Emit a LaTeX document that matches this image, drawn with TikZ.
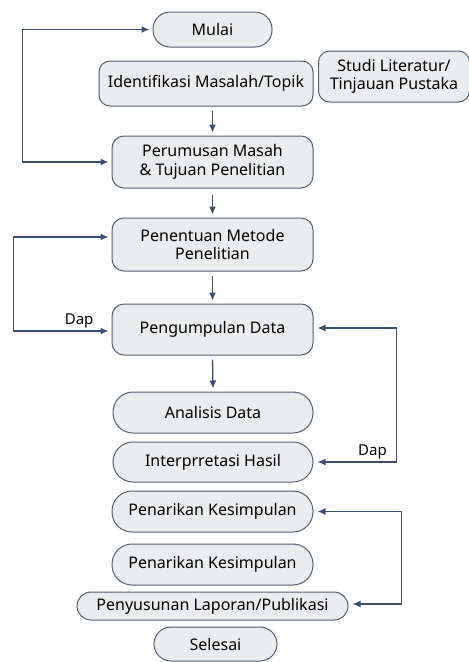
\documentclass[tikz,border=0pt]{standalone}
\usepackage{fontspec}
\setmainfont{Noto Sans}
\usetikzlibrary{positioning, arrows.meta}

\definecolor{boxfill}{HTML}{EBECEE}
\definecolor{boxline}{HTML}{56606D}
\definecolor{arrowline}{HTML}{3D4D6B}

\begin{document}
\begin{tikzpicture}[x=1pt, y=-1pt,
  stepbox/.style={draw=boxline, fill=boxfill, line width=1pt, align=center, inner sep=0pt,
    font=\fontsize{16}{18.5}\selectfont},
  flow/.style={arrowline, line width=1.3pt, -{Latex[length=8pt,width=7pt]}, shorten >=3pt},
  twoway/.style={flow, {Latex[length=8pt,width=7pt]}-{Latex[length=8pt,width=7pt]}, shorten <=3pt},
  looplabel/.style={text=black, font=\fontsize{15}{17}\selectfont, inner sep=2pt}]
\useasboundingbox (0,0) rectangle (469,662);

\node[stepbox, minimum width=119pt, minimum height=35pt, rounded corners=17pt] (mulai) at (212.5,29.5) {Mulai};
\node[stepbox, minimum width=214pt, minimum height=45pt, rounded corners=11pt] (identifikasi) at (206,83.5) {Identifikasi Masalah/Topik};
\node[stepbox, minimum width=151pt, minimum height=51pt, rounded corners=11pt] (studi) at (394,76.5) {Studi Literatur/\\Tinjauan Pustaka};
\node[stepbox, minimum width=201pt, minimum height=52pt, rounded corners=12pt] (perumusan) at (212.5,162) {Perumusan Masah\\\& Tujuan Penelitian};
\node[stepbox, minimum width=201pt, minimum height=53pt, rounded corners=12pt] (penentuan) at (212.5,244.5) {Penentuan Metode\\Penelitian};
\node[stepbox, minimum width=201pt, minimum height=51pt, rounded corners=12pt] (pengumpulan) at (212.5,329.5) {Pengumpulan Data};
\node[stepbox, minimum width=200pt, minimum height=41pt, rounded corners=20pt] (analisis) at (213,412.5) {Analisis Data};
\node[stepbox, minimum width=200pt, minimum height=40pt, rounded corners=20pt] (interpretasi) at (213,462) {Interprretasi Hasil};
\node[stepbox, minimum width=201pt, minimum height=41pt, rounded corners=20pt] (penarikanA) at (212.5,511.5) {Penarikan Kesimpulan};
\node[stepbox, minimum width=201pt, minimum height=41pt, rounded corners=20pt] (penarikanB) at (212.5,564.5) {Penarikan Kesimpulan};
\node[stepbox, minimum width=271pt, minimum height=28pt, rounded corners=14pt] (penyusunan) at (212.5,606) {Penyusunan Laporan/Publikasi};
\node[stepbox, minimum width=123pt, minimum height=34pt, rounded corners=17pt] (selesai) at (215.5,644) {Selesai};

\draw[flow, shorten <=4pt] (identifikasi.south -| perumusan) -- (perumusan.north);
\draw[flow, shorten <=6pt] (perumusan.south) -- (penentuan.north);
\draw[flow, shorten <=4pt] (penentuan.south) -- (pengumpulan.north);
\draw[flow, shorten <=4pt] (pengumpulan.south) -- (analisis.north);

\draw[twoway] (perumusan.west) -- ++(-89,0) |- (mulai.west);
\draw[twoway] ([yshift=-1.5pt]pengumpulan.west) -- ++(-98,0) node[looplabel, pos=0.33, above] {Dap}
  |- ([yshift=7.5pt]penentuan.west);
\draw[twoway, shorten <=4pt, shorten >=4pt] (interpretasi.east) -- ++(83,0) node[looplabel, pos=0.71, above] {Dap}
  |- ([yshift=1.5pt]pengumpulan.east);
\draw[twoway, shorten <=4pt, shorten >=4pt] ([yshift=2pt]penyusunan.east) -- ++(53,0) |- (penarikanA.east);

\end{tikzpicture}
\end{document}
